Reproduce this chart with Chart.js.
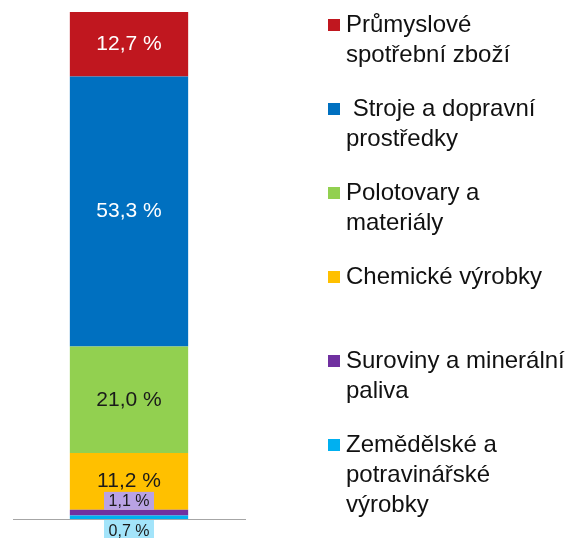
<!DOCTYPE html>
<html>
<head>
<meta charset="utf-8">
<script src="https://cdn.jsdelivr.net/npm/chart.js@4/dist/chart.umd.min.js"></script>
<style>
  html, body { margin: 0; padding: 0; background: #fff; }
  #wrap { width: 573px; height: 538px; }
</style>
</head>
<body>
<div id="wrap"><canvas id="mychart"></canvas></div>
<script>
// from the bottom of the bar to the top
var categories = [
  ['Zemědělské a', 'potravinářské', 'výrobky'],
  ['Suroviny a minerální', 'paliva'],
  ['Chemické výrobky'],
  ['Polotovary a', 'materiály'],
  [' Stroje a dopravní', 'prostředky'],
  ['Průmyslové', 'spotřební zboží']
];
var shares = [0.7, 1.1, 11.2, 21.0, 53.3, 12.7];
var colors = ['#00B0F0', '#7030A0', '#FFC000', '#92D050', '#0070C0', '#C0171F'];
var labelColors = ['#1a1a1a', '#1a1a1a', '#1a1a1a', '#1a1a1a', '#ffffff', '#ffffff'];
var boxColors = ['#A3E4FA', '#B9A2E4', null, null, null, null];

var FONT = '"Liberation Sans", Arial, sans-serif';

function fmt(v) {
  return v.toFixed(1).replace('.', ',') + ' %';
}

var datasets = [];
for (var i = 0; i < shares.length; i++) {
  datasets.push({
    label: categories[i].join(' '),
    data: [shares[i]],
    backgroundColor: colors[i],
    borderWidth: 0,
    barPercentage: 0.51,
    categoryPercentage: 1.0
  });
}

var labelsPlugin = {
  id: 'barLabels',
  afterDatasetsDraw: function(chart) {
    var ctx = chart.ctx;
    var area = chart.chartArea;
    ctx.save();
    ctx.textAlign = 'center';
    ctx.textBaseline = 'middle';
    for (var i = 0; i < shares.length; i++) {
      var bar = chart.getDatasetMeta(i).data[0];
      var x = bar.x, y;
      if (boxColors[i]) {
        // small segments get a boxed label outside the segment
        var bw = 50, bh = 18, by;
        if (i == 0) {
          by = area.bottom + 1;
          bh = 21;
        } else {
          by = bar.y - bh;
        }
        ctx.fillStyle = boxColors[i];
        ctx.fillRect(x - bw / 2, by, bw, bh);
        ctx.font = '16px ' + FONT;
        y = by + bh / 2 + 1;
      } else {
        ctx.font = '21px ' + FONT;
        y = (bar.y + bar.base) / 2;
      }
      ctx.fillStyle = labelColors[i];
      ctx.fillText(fmt(shares[i]), x, y);
    }
    ctx.restore();
  }
};

var legendPlugin = {
  id: 'sideLegend',
  afterDraw: function(chart) {
    var ctx = chart.ctx;
    ctx.save();
    ctx.textAlign = 'left';
    ctx.textBaseline = 'middle';
    ctx.font = '24px ' + FONT;
    var n = categories.length;
    for (var k = 0; k < n; k++) {
      var i = n - 1 - k;
      var y0 = 25 + 84 * k;
      ctx.fillStyle = colors[i];
      ctx.fillRect(328, y0 - 6, 12, 12);
      ctx.fillStyle = '#111';
      for (var l = 0; l < categories[i].length; l++) {
        ctx.fillText(categories[i][l], 346, y0 + 30 * l);
      }
    }
    ctx.restore();
  }
};

var ctx = document.getElementById('mychart');
var myBarChart = new Chart(ctx, {
  type: 'bar',
  data: { labels: [''], datasets: datasets },
  plugins: [labelsPlugin, legendPlugin],
  options: {
    responsive: true,
    maintainAspectRatio: false,
    animation: false,
    layout: { padding: { left: 13, right: 328, top: 12, bottom: 11 } },
    plugins: {
      legend: { display: false },
      tooltip: { enabled: false }
    },
    scales: {
      x: {
        stacked: true,
        grid: { display: false },
        ticks: { display: false },
        border: { display: true, color: '#A6A6A6', width: 1 }
      },
      y: {
        stacked: true,
        display: false,
        min: 0,
        max: 100
      }
    }
  }
});
</script>
</body>
</html>
